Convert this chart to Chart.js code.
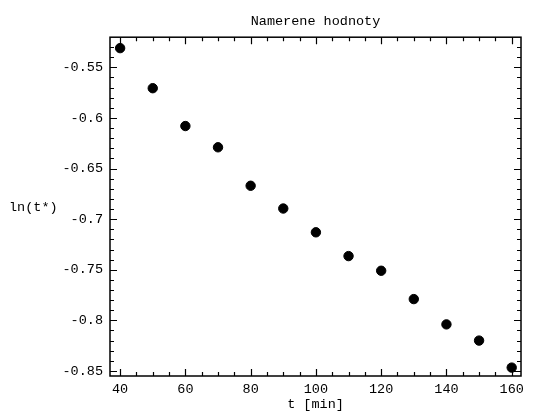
<!DOCTYPE html>
<html><head><meta charset="utf-8">
<script src="https://cdn.jsdelivr.net/npm/chart.js@4/dist/chart.umd.min.js"></script>
<style>html,body{margin:0;padding:0;background:#fff}</style>
</head><body>
<canvas id="c" width="533" height="415"></canvas>
<script>
// ---- data ----
const timesMin = [40, 50, 60, 70, 80, 90, 100, 110, 120, 130, 140, 150, 160];
const lnT = [-0.531, -0.5706, -0.608, -0.629, -0.667, -0.6895, -0.713, -0.7365, -0.751, -0.779, -0.804, -0.820, -0.8467];
const xTickValues = [40, 60, 80, 100, 120, 140, 160];
const yTickValues = [-0.85, -0.8, -0.75, -0.7, -0.65, -0.6, -0.55];
const yTickLabels = ['-0.85', '-0.8', '-0.75', '-0.7', '-0.65', '-0.6', '-0.55'];
const chartTitle = 'Namerene hodnoty';
const xTitle = 't [min]';
const yTitle = 'ln(t*)';

const FONT = 'Liberation Mono';
const fnt = {family: FONT, size: 13.5, weight: 'normal'};

const framePlugin = {
  id: 'frame',
  afterDraw(chart) {
    const {ctx, chartArea: a, scales: {x, y}} = chart;
    ctx.save();
    ctx.strokeStyle = '#000';
    ctx.lineWidth = 1.5;
    ctx.strokeRect(a.left, a.top, a.right - a.left, a.bottom - a.top);
    ctx.lineWidth = 1.2;
    ctx.beginPath();
    for (let i = 40; i <= 160; i += 5) {
      const px = Math.round(x.getPixelForValue(i)) + 0.5;
      const len = i % 20 === 0 ? 7 : 4;
      ctx.moveTo(px, a.bottom); ctx.lineTo(px, a.bottom - len);
      ctx.moveTo(px, a.top); ctx.lineTo(px, a.top + len);
    }
    for (let i = -85; i <= -53; i++) {
      const py = Math.round(y.getPixelForValue(i / 100)) + 0.5;
      const len = i % 5 === 0 ? 7 : 4;
      ctx.moveTo(a.left, py); ctx.lineTo(a.left + len, py);
      ctx.moveTo(a.right, py); ctx.lineTo(a.right - len, py);
    }
    ctx.stroke();
    ctx.fillStyle = '#000';
    ctx.font = '13.5px "' + FONT + '"';
    ctx.textAlign = 'left';
    ctx.textBaseline = 'middle';
    ctx.fillText(yTitle, 9, 207);
    ctx.restore();
  }
};

new Chart(document.getElementById('c'), {
  type: 'scatter',
  data: {
    datasets: [{
      data: timesMin.map((t, i) => ({x: t, y: lnT[i]})),
      backgroundColor: '#000',
      borderColor: '#000',
      pointRadius: 4.7,
      pointHoverRadius: 4.7,
      pointStyle: 'circle'
    }]
  },
  options: {
    responsive: false,
    devicePixelRatio: 1,
    animation: false,
    layout: {padding: {left: 0, right: 12, top: 0, bottom: 0}},
    plugins: {
      legend: {display: false},
      tooltip: {enabled: false},
      title: {display: true, fullSize: false, text: chartTitle, color: '#000', font: fnt, padding: {top: 13, bottom: 8}}
    },
    scales: {
      x: {
        type: 'linear', min: 36.9, max: 162.85,
        grid: {display: false, drawTicks: false},
        border: {display: false},
        afterBuildTicks: s => { s.ticks = xTickValues.map(v => ({value: v})); },
        ticks: {color: '#000', font: fnt, padding: 5, maxRotation: 0, autoSkip: false},
        title: {display: true, text: xTitle, color: '#000', font: fnt, padding: {top: 0, bottom: 2}},
        afterFit: s => { s.height = 39; }
      },
      y: {
        type: 'linear', min: -0.855, max: -0.5202,
        grid: {display: false, drawTicks: false},
        border: {display: false},
        afterBuildTicks: s => { s.ticks = yTickValues.map(v => ({value: v})); },
        ticks: {color: '#000', font: fnt, padding: 7, autoSkip: false,
          callback: (v, i) => yTickLabels[i]},
        afterFit: s => { s.width = 110; }
      }
    }
  },
  plugins: [framePlugin]
});
</script>
</body></html>
